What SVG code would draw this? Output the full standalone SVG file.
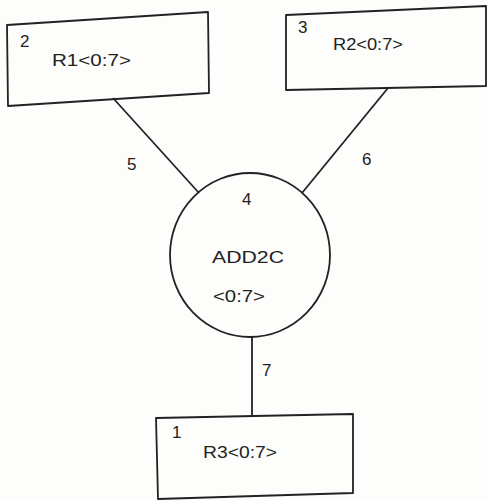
<svg xmlns="http://www.w3.org/2000/svg" width="489" height="501" viewBox="0 0 489 501">
<style>
.shape{fill:none;stroke:#222;stroke-width:1.8;stroke-linejoin:round}
.lbl{font-family:"Liberation Sans",Arial,sans-serif;font-size:17px;fill:#222}
.num{font-family:"Liberation Sans",Arial,sans-serif;font-size:17px;fill:#222}
.edge{stroke:#222;stroke-width:1.8;fill:none}
</style>
<rect width="489" height="501" fill="#fdfdfb"/>
<g id="connectors">
<line class="edge" x1="113" y1="98" x2="199" y2="193"/>
<line class="edge" x1="388" y1="88" x2="302" y2="193"/>
<line class="edge" x1="252" y1="337" x2="252" y2="416"/>
<text class="num" x="127" y="170" font-size="19">5</text>
<text class="num" x="362" y="165" font-size="19">6</text>
<text class="num" x="262" y="376" font-size="19">7</text>
</g>
<g id="node-R1">
<polygon class="shape" points="7,25 208,12 209,93 8,106"/>
<text class="num" x="20" y="47">2</text>
<text class="lbl" x="52" y="66" textLength="79" lengthAdjust="spacingAndGlyphs">R1&lt;0:7&gt;</text>
</g>
<g id="node-R2">
<polygon class="shape" points="286,15 486,6 486,86 286,90"/>
<text class="num" x="298" y="33">3</text>
<text class="lbl" x="333" y="50" textLength="70" lengthAdjust="spacingAndGlyphs">R2&lt;0:7&gt;</text>
</g>
<g id="node-ADD2C">
<ellipse class="shape" cx="250" cy="255" rx="80" ry="82"/>
<text class="num" x="242" y="205">4</text>
<text class="lbl" x="212" y="263" textLength="72" lengthAdjust="spacingAndGlyphs">ADD2C</text>
<text class="lbl" x="213" y="302" textLength="52" lengthAdjust="spacingAndGlyphs">&lt;0:7&gt;</text>
</g>
<g id="node-R3">
<polygon class="shape" points="156,418 353,414 353,493 158,499"/>
<text class="num" x="172" y="438">1</text>
<text class="lbl" x="203" y="458" textLength="74" lengthAdjust="spacingAndGlyphs">R3&lt;0:7&gt;</text>
</g>
</svg>
